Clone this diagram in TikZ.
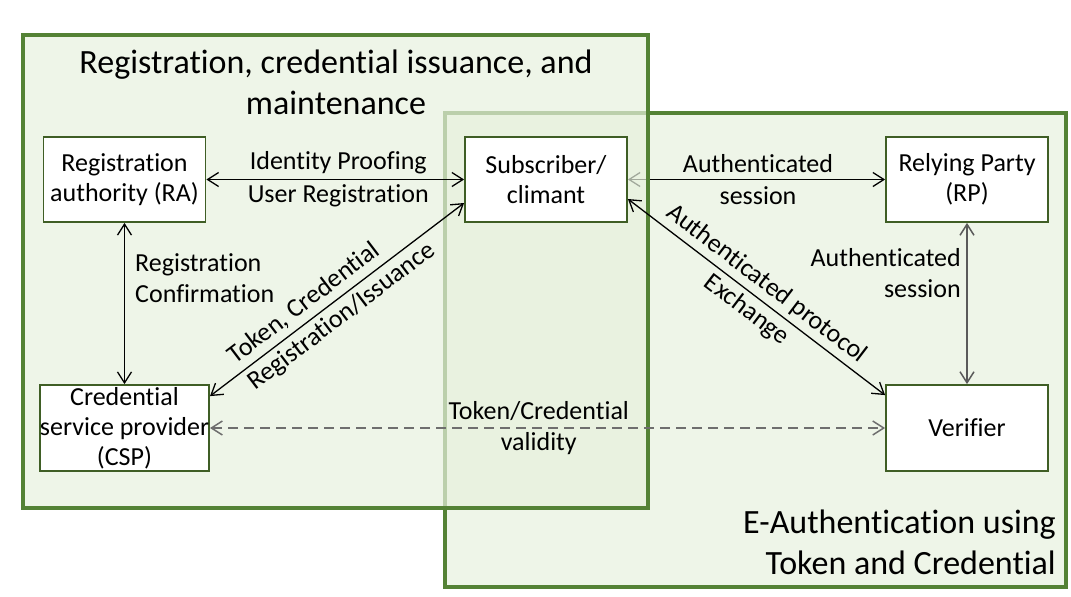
\documentclass[tikz,border=0pt]{standalone}
\usepackage{fontspec}
\setmainfont{Carlito}[Ligatures=NoCommon]
\usetikzlibrary{arrows.meta,calc}
\definecolor{boxgreen}{HTML}{548235}
\definecolor{nodegreen}{HTML}{3F5E25}
\definecolor{fillgreen}{HTML}{EEF5E8}
\definecolor{leftfill}{RGB}{231,241,222}
\definecolor{dashgray}{HTML}{6E6E6E}
\definecolor{vgray}{HTML}{5A5A5A}
\pgfdeclarelayer{bg}
\pgfdeclarelayer{mid}
\pgfsetlayers{bg,mid,main}
\begin{document}
\begin{tikzpicture}[x=1pt,y=-1pt,
  entity/.style={draw=nodegreen, line width=1.8pt, fill=white, minimum width=162pt, minimum height=85pt,
    inner sep=0pt, align=center, font=\fontsize{26}{30}\selectfont},
  lbl/.style={font=\fontsize{26}{33}\selectfont, inner sep=0pt, text=black},
  lbls/.style={font=\fontsize{26}{31.5}\selectfont, inner sep=0pt, text=black},
  title/.style={font=\fontsize{34}{41}\selectfont, inner sep=0pt},
  barb/.tip={Straight Barb[length=11pt,width=14pt,line width=1.3pt]},
  link/.style={line width=1.3pt, draw=black, barb-barb},
  dlink/.style={line width=2pt, draw=dashgray, dash pattern=on 10pt off 6pt,
    {Straight Barb[length=11pt,width=14pt,line width=1.5pt]}-{Straight Barb[length=11pt,width=14pt,line width=1.5pt]}},
  glink/.style={line width=1.8pt, draw=vgray,
    {Straight Barb[length=11pt,width=14pt,line width=1.5pt]}-{Straight Barb[length=11pt,width=14pt,line width=1.5pt]}},
]
\useasboundingbox (0,0) rectangle (1071,597);

% entities
\node[entity] (ra)  at (124.5,179.5) {Registration\\authority (RA)};
\node[entity] (sub) at (546,179.5) {Subscriber/\\climant};
\node[entity] (rp)  at (967,179.5) {Relying Party\\(RP)};
\node[entity, minimum height=86pt] (csp) at (124.5,428) {Credential\\service provider\\(CSP)};
\node[entity, minimum height=86pt] (ver) at (967,428) {Verifier};

% right region (behind)
\begin{pgfonlayer}{bg}
  \draw[draw=boxgreen, line width=4pt, fill=fillgreen] (445,113) rectangle (1066,587);
  \draw[link] (sub) -- (rp);
\end{pgfonlayer}

% left region (semi-transparent, on top of right region)
\begin{pgfonlayer}{mid}
  \draw[draw=boxgreen, line width=4pt, fill=leftfill, fill opacity=0.7] (23,35) rectangle (648,508);
\end{pgfonlayer}

% titles
\node[title, align=center] (t1) at (336,82.5) {Registration, credential issuance, and\\maintenance};
\node[title, align=right, anchor=east] (t2) at (1056,542) {E-Authentication using\\Token and Credential};

% connectors
\node[lbls, align=center] (lsess) at ($(sub.east)!0.5!(rp.west)+(1.5,0)$) {Authenticated\\session};
\draw[link] (ra) -- node[lbl, align=center, xshift=3pt] (lid) {Identity Proofing\\User Registration} (sub);
\draw[link] (ra) -- (csp);
\node[lbls, align=left, anchor=west] (lrc) at (135,278) {Registration\\Confirmation};
\draw[link] ([yshift=-12pt]csp.north east) -- node[lbl, sloped, align=left, pos=0.48] (ltok) {Token, Credential\\Registration/Issuance} ([yshift=-23.5pt]sub.west);
\draw[link] ([yshift=-19.5pt]sub.east) -- node[lbl, sloped, align=center, pos=0.5] (lprot) {Authenticated protocol\\Exchange} ([yshift=-11pt]ver.north west);
\draw[glink] (rp) -- (ver);
\node[lbls, align=right, anchor=east] (lsess2) at (961,273) {Authenticated\\session};
\draw[dlink] (csp) -- node[lbls, align=center, pos=0.487] (lval) {Token/Credential\\validity} (ver);

\end{tikzpicture}
\end{document}
